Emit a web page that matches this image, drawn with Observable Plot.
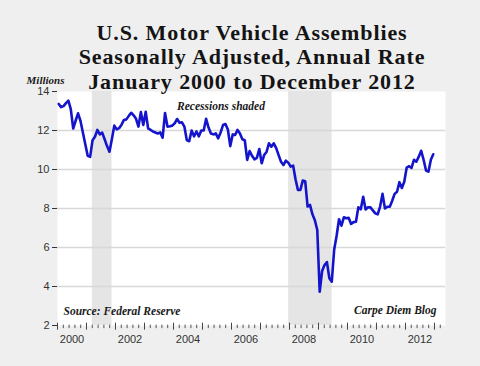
<!DOCTYPE html>
<html>
<head>
<meta charset="utf-8">
<script src="https://cdn.jsdelivr.net/npm/d3@7"></script>
<script src="https://cdn.jsdelivr.net/npm/@observablehq/plot@0.6"></script>
<style>
  body { margin: 0; background: #efefef; }
  #wrap { position: relative; width: 480px; height: 366px; overflow: hidden; background: #efefef; }
  #title { position: absolute; left: 0; top: 20.5px; width: 504px; text-align: center;
           font-family: "Liberation Serif", "Times New Roman", serif; font-weight: bold;
           font-size: 22px; letter-spacing: 0.9px; line-height: 24.5px; color: #141414; }
  #chart { position: absolute; left: 0; top: 0; }
</style>
</head>
<body>
<div id="wrap">
  <div id="chart"></div>
  <div id="title">U.S. Motor Vehicle Assemblies<br>Seasonally Adjusted, Annual Rate<br>January 2000 to December 2012</div>
</div>
<script>
// Monthly values, millions of units (SAAR)
const v2000 = [13.36, 13.2, 13.25, 13.4, 13.53, 13.1, 12.1, 12.5, 12.88, 12.5, 11.9, 11.3];
const v2001 = [10.7, 10.65, 11.5, 11.68, 12.03, 11.8, 11.89, 11.55, 11.2, 10.91, 11.55, 12.25];
const v2002 = [12.06, 12.12, 12.3, 12.54, 12.57, 12.75, 12.91, 12.78, 12.6, 12.2, 12.95, 12.28];
const v2003 = [12.96, 12.11, 12.03, 11.95, 11.9, 11.85, 11.9, 11.63, 12.9, 12.2, 12.22, 12.25];
const v2004 = [12.37, 12.59, 12.4, 12.42, 12.2, 11.51, 11.45, 12.0, 11.7, 11.95, 11.7, 12.0];
const v2005 = [12.0, 12.6, 12.15, 11.85, 11.8, 11.85, 11.6, 11.9, 12.28, 12.33, 12.05, 11.2];
const v2006 = [11.8, 11.77, 12.03, 11.85, 11.55, 11.5, 10.49, 10.95, 10.7, 10.52, 10.6, 11.05];
const v2007 = [10.32, 10.74, 10.9, 11.34, 11.17, 11.34, 11.1, 10.74, 10.4, 10.23, 10.45, 10.35];
const v2008 = [10.15, 10.2, 9.5, 8.95, 8.95, 9.43, 9.4, 8.1, 8.18, 7.7, 7.4, 6.9];
const v2009 = [3.73, 4.8, 5.1, 5.25, 4.42, 4.25, 5.9, 6.6, 7.45, 7.12, 7.55, 7.5];
const v2010 = [7.52, 7.21, 7.3, 7.32, 8.06, 7.96, 8.6, 7.95, 8.06, 8.06, 7.9, 7.75];
const v2011 = [7.7, 8.1, 8.75, 8.0, 8.09, 8.09, 8.4, 8.75, 8.86, 9.35, 9.05, 9.37];
const v2012 = [10.1, 10.17, 10.08, 10.5, 10.4, 10.66, 10.96, 10.5, 9.95, 9.89, 10.5, 10.78];

const years = [2000, 2001, 2002, 2003, 2004, 2005, 2006, 2007, 2008, 2009, 2010, 2011, 2012];
const yearLabels = [2000, 2002, 2004, 2006, 2008, 2010, 2012];
const yTicks = [2, 4, 6, 8, 10, 12, 14];
const gridTicks = [4, 6, 8, 10, 12];
const recessionStart = [2001.2, 2007.97];
const recessionEnd = [2001.88, 2009.47];

const series = [v2000, v2001, v2002, v2003, v2004, v2005, v2006, v2007, v2008, v2009, v2010, v2011, v2012];
const data = [];
series.forEach((arr, yi) => arr.forEach((v, m) => data.push({t: years[yi] + (m + 0.5) / 12, v})));
const recessions = recessionStart.map((s, i) => ({start: s, end: recessionEnd[i]}));
const xEnd = 2013.38;
const majorTicks = d3.range(2000, 2014);
const minorTicks = d3.range(2000, 2014).flatMap(y => [0.2, 0.4, 0.6, 0.8].map(f => y + f)).filter(t => t < xEnd);
const serifBI = "'Liberation Serif', 'Times New Roman', serif";

const chart = Plot.plot({
  width: 480,
  height: 366,
  marginTop: 91,
  marginBottom: 41,
  marginLeft: 57,
  marginRight: 35,
  style: {background: "transparent", fontFamily: "'Liberation Sans', Arial, sans-serif", fontSize: "11px", color: "#333"},
  x: {domain: [2000, xEnd], axis: null},
  y: {domain: [2, 14], axis: null},
  marks: [
    Plot.frame({fill: "#ffffff", stroke: "none"}),
    Plot.rect(recessions, {x1: "start", x2: "end", fill: "#e5e5e5"}),
    Plot.gridY(gridTicks, {stroke: "#d8d8d8", strokeOpacity: 1, strokeWidth: 1.5}),
    Plot.line(data, {x: "t", y: "v", stroke: "#1414cc", strokeWidth: 2.6, strokeLinejoin: "round"}),
    Plot.axisY(yTicks, {tickSize: 5, tickPadding: 3, fontSize: 11, label: null}),
    Plot.ruleX(majorTicks, {x: d => d, y1: () => 1.76, y2: () => 2.12, stroke: "#444"}),
    Plot.ruleX(minorTicks, {x: d => d, y1: () => 1.84, y2: () => 2.02, stroke: "#555"}),
    Plot.text(yearLabels, {x: d => d + 0.5, y: () => 2, dy: 14, text: d => String(d), fontSize: 11, fill: "#333"}),
    Plot.text(["Recessions shaded"], {frameAnchor: "top-left", dx: 163.5, dy: 10, textAnchor: "middle",
      fontFamily: serifBI, fontWeight: "bold", fontStyle: "italic", fontSize: 11.5, fill: "#1a1a1a"}),
    Plot.text(["Source: Federal Reserve"], {frameAnchor: "bottom-left", dx: 6, dy: -11, textAnchor: "start",
      fontFamily: serifBI, fontWeight: "bold", fontStyle: "italic", fontSize: 11.5, fill: "#1a1a1a"}),
    Plot.text(["Carpe Diem Blog"], {frameAnchor: "bottom-right", dx: -9, dy: -11.5, textAnchor: "end",
      fontFamily: serifBI, fontWeight: "bold", fontStyle: "italic", fontSize: 11.5, fill: "#1a1a1a"}),
    Plot.text(["Millions"], {frameAnchor: "top-left", dx: -12, dy: -15, textAnchor: "middle",
      fontFamily: serifBI, fontWeight: "bold", fontStyle: "italic", fontSize: 11, fill: "#1a1a1a"})
  ]
});
document.getElementById("chart").appendChild(chart);
</script>
</body>
</html>
